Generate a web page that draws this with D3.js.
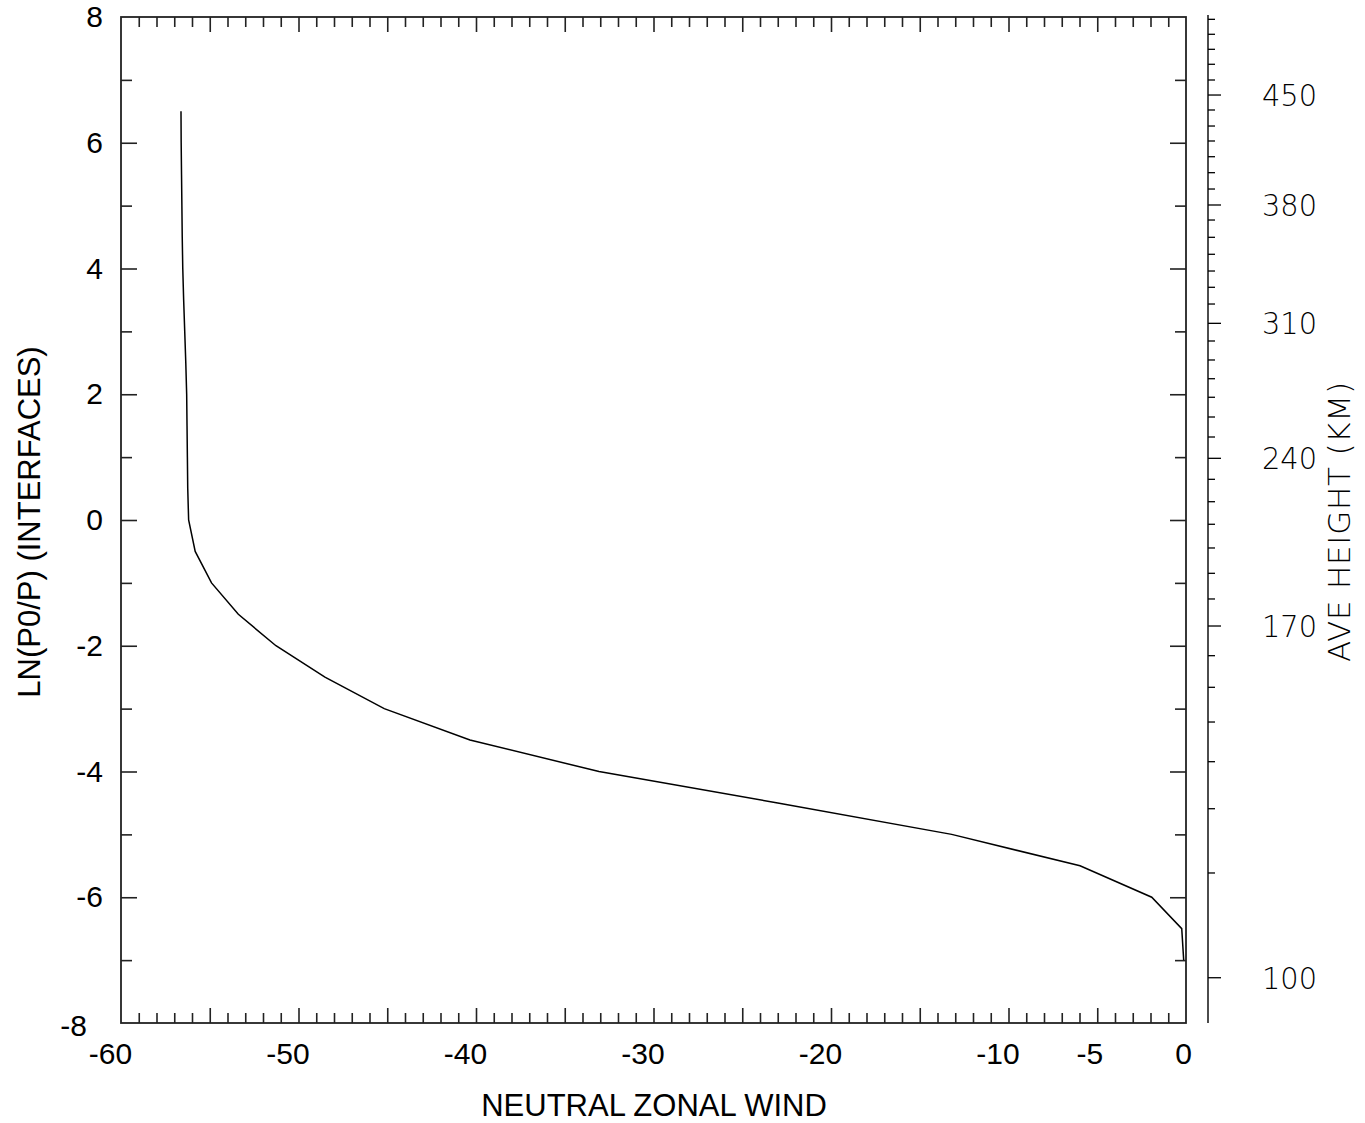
<!DOCTYPE html>
<html><head><meta charset="utf-8">
<script src="https://cdn.jsdelivr.net/npm/d3@7"></script>
<style>
html,body{margin:0;padding:0;background:#fff;}
</style></head>
<body>
<script>
// ---- data ----
const lnpLevels = [-7,-6.5,-6,-5.5,-5,-4.5,-4,-3.5,-3,-2.5,-2,-1.5,-1,-0.5,0,0.5,1,1.5,2,2.5,3,3.5,4,4.5,5,5.5,6,6.5];
const zonalWind = [-0.13,-0.24,-1.93,-5.97,-13.2,-23.0,-33.07,-40.34,-45.17,-48.51,-51.27,-53.39,-54.9,-55.82,-56.19,-56.24,-56.26,-56.28,-56.3,-56.35,-56.41,-56.47,-56.52,-56.55,-56.57,-56.59,-56.61,-56.62];
const xTickLabels = [-60,-50,-40,-30,-20,-10,-5,0];
const yTickLabels = [-8,-6,-4,-2,0,2,4,6,8];
// height (km) ticks on the right axis and the ln(P0/P) they sit at
const heightTicks = [100,110,120,130,140,150,160,170,180,190,200,210,220,230,240,250,260,270,280,290,300,310,320,330,340,350,360,370,380,390,400,410,420,430,440,450,460,470,480,490,500];
const heightLnp   = [-7.28,-5.614,-4.592,-3.844,-3.213,-2.661,-2.158,-1.686,-1.256,-0.848,-0.445,-0.068,0.291,0.647,0.981,1.32,1.638,1.952,2.247,2.545,2.847,3.128,3.435,3.701,3.96,4.226,4.496,4.771,5.01,5.264,5.524,5.778,6.028,6.266,6.521,6.759,6.998,7.248,7.486,7.725,7.963];
const heightLabels = [100,170,240,310,380,450];

const W = 1365, H = 1123;
const L = 121, R = 1186, T = 17, B = 1023;
const svg = d3.select("body").append("svg").attr("width", W).attr("height", H);

const x = d3.scaleLinear().domain([-60, 0]).range([L, R]);
const y = d3.scaleLinear().domain([-8, 8]).range([B, T]);
const hToLnp = d3.scaleLinear().domain(heightTicks).range(heightLnp);

const ax = "#222";
const font = "'Liberation Sans', Arial, sans-serif";
const fmt = d => String(d);

function styleAxis(g) {
  g.select(".domain").remove();
  g.selectAll(".tick line").attr("stroke", ax).attr("stroke-width", 1.6);
}

// x ticks (inward) top and bottom
const xMinor = d3.range(-59, 0).filter(v => v % 5 !== 0);
const xMajor = d3.range(-55, 0, 5);
svg.append("g").attr("transform", `translate(0,${B})`)
  .call(d3.axisTop(x).tickValues(xMinor).tickSize(10).tickFormat("")).call(styleAxis);
svg.append("g").attr("transform", `translate(0,${B})`)
  .call(d3.axisTop(x).tickValues(xMajor).tickSize(15).tickFormat("")).call(styleAxis);
svg.append("g").attr("transform", `translate(0,${T})`)
  .call(d3.axisBottom(x).tickValues(xMinor).tickSize(10).tickFormat("")).call(styleAxis);
svg.append("g").attr("transform", `translate(0,${T})`)
  .call(d3.axisBottom(x).tickValues(xMajor).tickSize(15).tickFormat("")).call(styleAxis);

// y ticks (inward) left and right of frame
const yMinor = [-7,-5,-3,-1,1,3,5,7];
const yMajor = [-6,-4,-2,0,2,4,6];
svg.append("g").attr("transform", `translate(${L},0)`)
  .call(d3.axisRight(y).tickValues(yMinor).tickSize(11).tickFormat("")).call(styleAxis);
svg.append("g").attr("transform", `translate(${L},0)`)
  .call(d3.axisRight(y).tickValues(yMajor).tickSize(16).tickFormat("")).call(styleAxis);
svg.append("g").attr("transform", `translate(${R},0)`)
  .call(d3.axisLeft(y).tickValues(yMinor).tickSize(11).tickFormat("")).call(styleAxis);
svg.append("g").attr("transform", `translate(${R},0)`)
  .call(d3.axisLeft(y).tickValues(yMajor).tickSize(16).tickFormat("")).call(styleAxis);

// frame
svg.append("rect").attr("x", L).attr("y", T).attr("width", R - L).attr("height", B - T)
  .attr("fill", "none").attr("stroke", ax).attr("stroke-width", 1.8);

// x tick labels
const xLab = svg.append("g").attr("transform", `translate(0,${B})`)
  .call(d3.axisBottom(x).tickValues(xTickLabels).tickSize(0).tickPadding(20).tickFormat(fmt));
xLab.select(".domain").remove();
xLab.selectAll("text").attr("font-family", font).attr("font-size", 30).attr("fill", "#000")
  .attr("dx", d => d === 0 ? -3 : (d === -5 ? -8 : -11));

// y tick labels
const yLab = svg.append("g").attr("transform", `translate(${L},0)`)
  .call(d3.axisLeft(y).tickValues(yTickLabels).tickSize(0).tickPadding(18).tickFormat(fmt));
yLab.select(".domain").remove();
yLab.selectAll("text").attr("font-family", font).attr("font-size", 30).attr("fill", "#000")
  .attr("dx", d => d === -8 ? -16 : 0).attr("dy", d => d === -8 ? "0.4em" : "0.32em");

// axis titles
svg.append("text").attr("x", 654).attr("y", 1116).attr("text-anchor", "middle")
  .attr("font-family", font).attr("font-size", 31).text("NEUTRAL ZONAL WIND");
svg.append("text").attr("transform", "translate(40,522) rotate(-90)").attr("text-anchor", "middle")
  .attr("font-family", font).attr("font-size", 31).text("LN(P0/P) (INTERFACES)");

// right height axis
const RA = 1208;
const yh = h => y(hToLnp(h));
const hMinor = heightTicks.filter(h => !heightLabels.includes(h));
svg.append("line").attr("x1", RA).attr("x2", RA).attr("y1", 15).attr("y2", B)
  .attr("stroke", "#000").attr("stroke-width", 1.4);
svg.append("g").selectAll("line").data(hMinor).join("line")
  .attr("x1", RA).attr("x2", RA + 7).attr("y1", yh).attr("y2", yh)
  .attr("stroke", "#000").attr("stroke-width", 1.3);
svg.append("g").selectAll("line").data(heightLabels).join("line")
  .attr("x1", RA).attr("x2", RA + 13).attr("y1", yh).attr("y2", yh)
  .attr("stroke", "#000").attr("stroke-width", 1.3);
const thinFont = "'DejaVu Sans', sans-serif";
svg.append("g").selectAll("text").data(heightLabels).join("text")
  .attr("x", 1262).attr("y", yh).attr("dy", "0.36em")
  .attr("font-family", thinFont).attr("font-weight", 200).attr("font-size", 31)
  .attr("textLength", 55).attr("lengthAdjust", "spacingAndGlyphs")
  .text(d => d);
svg.append("text").attr("transform", "translate(1350,522) rotate(-90)").attr("text-anchor", "middle")
  .attr("font-family", thinFont).attr("font-weight", 200).attr("font-size", 31)
  .attr("textLength", 280).attr("lengthAdjust", "spacing")
  .text("AVE HEIGHT (KM)");

// data line
const pts = lnpLevels.map((p, i) => [zonalWind[i], p]);
svg.append("path").datum(pts)
  .attr("fill", "none").attr("stroke", "#000").attr("stroke-width", 1.5)
  .attr("d", d3.line().x(d => x(d[0])).y(d => y(d[1])));
</script>
</body></html>
